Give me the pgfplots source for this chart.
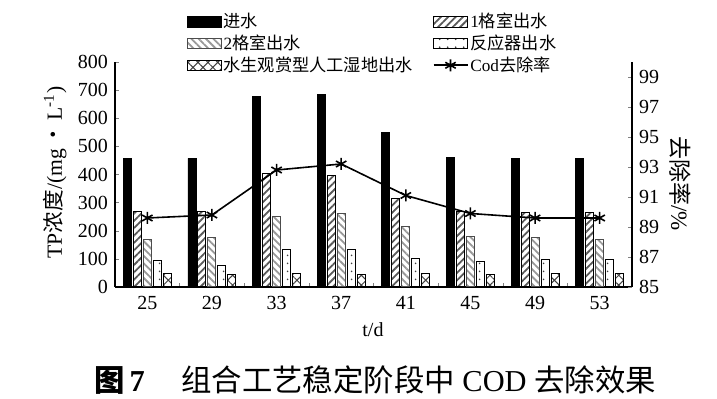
\documentclass[border=0pt]{standalone}
\usepackage{pgfplots}
\pgfplotsset{compat=1.18}
\usetikzlibrary{patterns.meta}
\usepackage{fontspec}
\setmainfont{Liberation Serif}
\newfontfamily\cjk{Noto Sans CJK SC}
\pgfplotsset{barleg/.style={legend image code/.code={\draw[##1] (0pt,-2.6pt) rectangle (17pt,2.6pt);}}}
\begin{document}
\begin{tikzpicture}
\useasboundingbox (-57.5pt,-56pt) rectangle (301pt,143.5pt);
\begin{axis}[
  scale only axis, width=258.5pt, height=112.5pt,
  xmin=-0.5, xmax=7.5, ymin=0, ymax=800,
  ybar=1pt, bar width=4pt,
  axis x line*=bottom, axis y line*=left,
  axis line style={line width=0.6pt},
  xtick={0,...,7}, xticklabels={25,29,33,37,41,45,49,53},
  major x tick style={draw=none},
  minor xtick={0.5,1.5,...,6.5},
  minor tick length=2pt, major tick length=2pt,
  tick align=inside,
  ytick={0,100,...,800},
  /pgf/number format/assume math mode=true,
  tick label style={font=\fontsize{10}{12}\selectfont},
  xticklabel style={yshift=-1pt},
  xlabel={t/d},
  xlabel style={at={(axis description cs:0.499,-0.19)}, anchor=center, font=\fontsize{10}{12}\selectfont},
  ylabel={TP{\cjk 浓度}/(mg\,{\cjk ·}\,L\textsuperscript{-1})},
  ylabel style={at={(axis description cs:-0.116,0.51)}, anchor=center, font=\fontsize{10.8}{12}\selectfont},
  legend columns=2,
  legend cell align=left,
  legend style={at={(axis description cs:0.126,1.245)}, anchor=north west, draw=none, fill=none,
    font=\fontsize{8.6}{9.5}\selectfont, row sep=0pt,
    nodes={inner sep=1pt},
    /tikz/every even column/.append style={column sep=9pt}},
]
\addplot[barleg, draw=black, fill=black] coordinates {(0,457) (1,457) (2,676) (3,686) (4,549) (5,461) (6,457) (7,457)};
\addlegendentry{\cjk 进水}
\addplot[barleg, draw=black, line width=0.5pt, pattern={Lines[angle=45,distance=2.6pt,line width=0.9pt]}, pattern color=black!65] coordinates {(0,268) (1,268) (2,405) (3,398) (4,313) (5,268) (6,264) (7,264)};
\addlegendentry{1{\cjk 格室出水}}
\addplot[barleg, draw=black!70, line width=0.5pt, pattern={Lines[angle=-45,distance=2.6pt,line width=0.9pt]}, pattern color=black!40] coordinates {(0,169) (1,176) (2,250) (3,261) (4,215) (5,180) (6,176) (7,169)};
\addlegendentry{2{\cjk 格室出水}}
\addplot[barleg, draw=black, line width=0.5pt, pattern={Dots[distance=4pt,radius=0.5pt]}, pattern color=black!75] coordinates {(0,95) (1,77) (2,134) (3,134) (4,102) (5,92) (6,99) (7,99)};
\addlegendentry{\cjk 反应器出水}
\addplot[barleg, draw=black, line width=0.5pt, pattern={Hatch[angle=45,distance=3.5pt,line width=0.5pt]}, pattern color=black!75] coordinates {(0,49) (1,46) (2,49) (3,46) (4,49) (5,46) (6,49) (7,49)};
\addlegendentry{\cjk 水生观赏型人工湿地出水}
\addlegendimage{legend image code/.code={\draw[black, line width=0.8pt] (0pt,0pt) -- (17pt,0pt);
  \draw[black, line width=0.8pt] plot[mark=asterisk, mark size=3pt, only marks] coordinates {(8.5pt,0pt)};}}
\addlegendentry{Cod{\cjk 去除率}}
\end{axis}
\begin{axis}[
  scale only axis, width=258.5pt, height=112.5pt,
  xmin=-0.5, xmax=7.5, ymin=85, ymax=100,
  axis x line=none, axis y line*=right,
  axis line style={line width=0.6pt},
  ytick={85,87,...,99},
  major tick length=2pt, tick align=inside,
  /pgf/number format/assume math mode=true,
  tick label style={font=\fontsize{10}{12}\selectfont},
  ylabel={{\cjk 去除率}/\%},
  ylabel style={at={(axis description cs:1.093,0.46)}, anchor=center, rotate=180, font=\fontsize{11.5}{12}\selectfont},
]
\addplot[black, line width=0.8pt, mark=asterisk, mark size=3pt] coordinates {(0,89.6) (1,89.8) (2,92.8) (3,93.2) (4,91.1) (5,89.9) (6,89.6) (7,89.6)};
\end{axis}
\node[font=\fontsize{15.2}{17}\selectfont] at (130pt,-46.5pt) {\textbf{{\cjk 图}\,7}\hspace{1.2em}{\cjk 组合工艺稳定阶段中} COD {\cjk 去除效果}};
\end{tikzpicture}
\end{document}
